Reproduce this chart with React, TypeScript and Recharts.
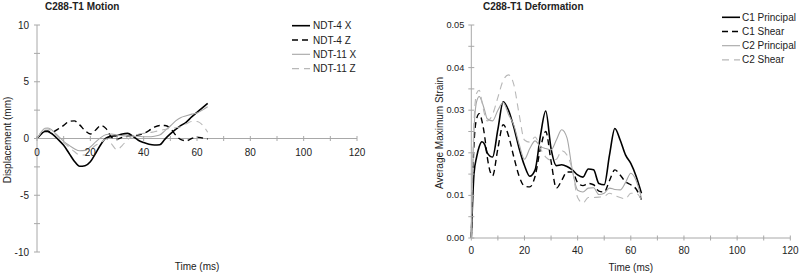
import React from 'react';
import { LineChart, Line, XAxis, YAxis, Legend, ReferenceLine, Label } from 'recharts';

const FONT = '"Liberation Sans", Arial, Helvetica, sans-serif';
const TEXT = '#222222';
const AXIS = '#a8a8a8';

// shared time samples (ms)
const timeMs = [0, 1, 2, 3, 4, 5, 6, 8, 10, 12, 14, 16, 18, 20, 22, 24, 26, 28, 30, 32, 34, 36, 38, 40, 42, 44, 46, 48, 50, 52, 54, 56, 58, 60, 62, 64];

// Motion (mm)
const ndt4X = [0, 0.25, 0.5, 0.62, 0.63, 0.5, 0.35, -0.1, -0.6, -1.3, -2.0, -2.45, -2.4, -2.05, -1.3, -0.5, 0.05, 0.2, 0.25, 0.4, 0.45, 0.2, -0.15, -0.35, -0.5, -0.57, -0.55, -0.05, 0.4, 0.8, 1.15, 1.45, 1.9, 2.3, 2.7, 3.1];
const ndt4Z = [0, 0.3, 0.55, 0.65, 0.65, 0.6, 0.6, 0.85, 1.15, 1.5, 1.55, 1.2, 0.7, 0.4, 0.75, 1.15, 0.85, 0.1, -0.05, 0.1, 0.2, 0.25, 0.3, 0.45, 0.7, 1.0, 1.15, 1.15, 0.9, 0.3, -0.1, -0.2, 0.0, 0.12, 0.05, -0.05];
const ndt11X = [0, 0.35, 0.7, 0.9, 0.93, 0.85, 0.65, 0.2, -0.25, -0.6, -0.9, -1.08, -1.05, -0.75, -0.3, 0.1, 0.35, 0.4, 0.3, 0.25, 0.2, 0.2, 0.2, 0.15, 0.15, 0.2, 0.3, 0.7, 1.1, 1.55, 1.85, 2.0, 2.15, 2.25, 2.5, 2.8];
const ndt11Z = [0, 0.35, 0.7, 0.85, 0.85, 0.75, 0.55, 0.05, -0.35, -0.75, -1.15, -1.45, -1.45, -1.0, -0.6, -0.35, -0.05, -0.5, -1.0, -0.6, -0.1, 0.25, 0.4, 0.45, 0.5, 0.6, 0.7, 0.8, 0.9, 0.95, 1.05, 1.3, 1.5, 1.5, 1.2, 0.55];

// Deformation (strain)
const c1Principal = [0, 0.015, 0.019, 0.0215, 0.0226, 0.022, 0.02, 0.019, 0.0255, 0.032, 0.03, 0.026, 0.021, 0.017, 0.0145, 0.016, 0.024, 0.0298, 0.021, 0.017, 0.0172, 0.0168, 0.016, 0.0148, 0.0143, 0.0162, 0.016, 0.0128, 0.0125, 0.0195, 0.0257, 0.023, 0.0195, 0.0175, 0.0145, 0.0105];
const c1Shear = [0, 0.022, 0.028, 0.0292, 0.0275, 0.024, 0.019, 0.0146, 0.021, 0.0266, 0.024, 0.019, 0.0145, 0.0122, 0.012, 0.0145, 0.021, 0.025, 0.018, 0.0117, 0.0135, 0.0155, 0.0155, 0.013, 0.0123, 0.0128, 0.0125, 0.011, 0.0108, 0.0135, 0.016, 0.0148, 0.0132, 0.0125, 0.0115, 0.009];
const c2Principal = [0, 0.025, 0.032, 0.0332, 0.032, 0.03, 0.028, 0.0275, 0.03, 0.0318, 0.029, 0.0265, 0.022, 0.0185, 0.021, 0.0228, 0.0215, 0.021, 0.0207, 0.023, 0.0254, 0.0235, 0.016, 0.0112, 0.0108, 0.0117, 0.0118, 0.0102, 0.0105, 0.0117, 0.0114, 0.0113, 0.013, 0.0152, 0.0135, 0.0094];
const c2Shear = [0, 0.027, 0.034, 0.0347, 0.032, 0.029, 0.0275, 0.029, 0.033, 0.037, 0.0383, 0.036, 0.029, 0.023, 0.0225, 0.0237, 0.021, 0.019, 0.0183, 0.0185, 0.0205, 0.0195, 0.016, 0.0095, 0.0082, 0.0095, 0.0095, 0.0096, 0.0098, 0.0105, 0.01, 0.0095, 0.0092, 0.0105, 0.0105, 0.009];

// ticks
const timeTicks = [0, 10, 20, 30, 40, 50, 60, 70, 80, 90, 100, 110, 120];
const motionTicks = [-10, -7.5, -5, -2.5, 0, 2.5, 5, 7.5, 10];
const strainTicks = [0, 0.005, 0.01, 0.015, 0.02, 0.025, 0.03, 0.035, 0.04, 0.045, 0.05];

const motionData = timeMs.map((t, i) => ({ t, ndt4X: ndt4X[i], ndt4Z: ndt4Z[i], ndt11X: ndt11X[i], ndt11Z: ndt11Z[i] }));
const strainData = timeMs.map((t, i) => ({ t, c1P: c1Principal[i], c1S: c1Shear[i], c2P: c2Principal[i], c2S: c2Shear[i] }));

type Series = { key: string; name: string; color: string; width: number; dash?: string };

const motionSeries: Series[] = [
  { key: 'ndt4X', name: 'NDT-4 X', color: '#000000', width: 1.6 },
  { key: 'ndt4Z', name: 'NDT-4 Z', color: '#000000', width: 1.4, dash: '6 4' },
  { key: 'ndt11X', name: 'NDT-11 X', color: '#a6a6a6', width: 1.1 },
  { key: 'ndt11Z', name: 'NDT-11 Z', color: '#b8b8b8', width: 1.1, dash: '7 5' },
];
const strainSeries: Series[] = [
  { key: 'c1P', name: 'C1 Principal', color: '#000000', width: 1.6 },
  { key: 'c1S', name: 'C1 Shear', color: '#000000', width: 1.4, dash: '6 4' },
  { key: 'c2P', name: 'C2 Principal', color: '#a6a6a6', width: 1.1 },
  { key: 'c2S', name: 'C2 Shear', color: '#b8b8b8', width: 1.1, dash: '7 5' },
];

const XTick = (props: any) => {
  const { x, y, payload, shift, labelDy } = props;
  const v = payload.value;
  const yy = y + shift;
  return (
    <g>
      <line x1={x} x2={x} y1={yy - 2.5} y2={yy + 2.5} stroke={AXIS} strokeWidth={1} />
      {v % 20 === 0 && (
        <text x={x} y={yy + labelDy} textAnchor="middle" dominantBaseline="central" fontSize={10} fill={TEXT} fontFamily={FONT}>
          {v}
        </text>
      )}
    </g>
  );
};

const YTick = (props: any) => {
  const { x, y, payload, major, fmt, fs, gap } = props;
  const v = payload.value;
  return (
    <g>
      <line x1={x - 3} x2={x + 3} y1={y} y2={y} stroke={AXIS} strokeWidth={1} />
      {major(v) && (
        <text x={x - gap} y={y} textAnchor="end" dominantBaseline="central" fontSize={fs} fill={TEXT} fontFamily={FONT}>
          {fmt(v)}
        </text>
      )}
    </g>
  );
};

const makeLegend = (series: Series[], rowH: number, firstY: number, lineLen: number, gap: number) => () => (
  <svg width={110} height={firstY + rowH * series.length} style={{ display: 'block', overflow: 'visible' }}>
    {series.map((s, i) => {
      const cy = firstY + rowH * i;
      return (
        <g key={s.key}>
          <line x1={0} x2={lineLen} y1={cy} y2={cy} stroke={s.color} strokeWidth={s.width} strokeDasharray={s.dash} />
          <text x={lineLen + gap} y={cy} dominantBaseline="central" fontSize={10} fill={TEXT} fontFamily={FONT}>
            {s.name}
          </text>
        </g>
      );
    })}
  </svg>
);

const titleStyle = (left: number): React.CSSProperties => ({
  position: 'absolute',
  left,
  top: 1,
  fontFamily: FONT,
  fontWeight: 'bold',
  fontSize: 10,
  color: TEXT,
  lineHeight: '12px',
  whiteSpace: 'nowrap',
});

export default function App() {
  return (
    <div style={{ position: 'absolute', left: 0, top: 0, width: 800, height: 275, background: '#fff', fontFamily: FONT }}>
      <div style={{ position: 'absolute', left: 0, top: 0, width: 400, height: 275 }}>
        <LineChart width={400} height={275} data={motionData} margin={{ top: 25, right: 43, bottom: 0, left: 0 }}>
          <XAxis
            dataKey="t"
            type="number"
            domain={[0, 120]}
            ticks={timeTicks}
            interval={0}
            height={23}
            axisLine={false}
            tickLine={false}
            tickSize={0}
            tickMargin={0}
            tick={<XTick shift={-113.5} labelDy={13.5} />}
          >
            <Label
              content={(p: any) => (
                <text x={p.viewBox.x + p.viewBox.width / 2} y={p.viewBox.y + 14.5} textAnchor="middle" dominantBaseline="central" fontSize={10} fill={TEXT} fontFamily={FONT}>
                  Time (ms)
                </text>
              )}
            />
          </XAxis>
          <YAxis
            type="number"
            domain={[-10, 10]}
            ticks={motionTicks}
            interval={0}
            width={37}
            axisLine={{ stroke: AXIS }}
            tickLine={false}
            tickSize={0}
            tickMargin={0}
            tick={(p: any) => <YTick {...p} fs={10} gap={8} major={(v: number) => v % 5 === 0} fmt={(v: number) => String(v)} />}
          >
            <Label
              content={(p: any) => {
                const cx = p.viewBox.x + 7;
                const cy = p.viewBox.y + p.viewBox.height / 2 + 1.5;
                return (
                  <text x={cx} y={cy} transform={`rotate(-90 ${cx} ${cy})`} textAnchor="middle" dominantBaseline="central" fontSize={10} fill={TEXT} fontFamily={FONT}>
                    Displacement (mm)
                  </text>
                );
              }}
            />
          </YAxis>
          <ReferenceLine y={0} stroke={AXIS} strokeWidth={1} />
          <Legend
            layout="vertical"
            align="center"
            verticalAlign="middle"
            wrapperStyle={{ position: 'absolute', left: 292, top: 18, width: 110 }}
            content={makeLegend(motionSeries, 14.3, 7.7, 18, 3)}
          />
          {motionSeries.map((s) => (
            <Line
              key={s.key}
              dataKey={s.key}
              name={s.name}
              type="monotone"
              stroke={s.color}
              strokeWidth={s.width}
              strokeDasharray={s.dash}
              dot={false}
              activeDot={false}
              isAnimationActive={false}
            />
          ))}
        </LineChart>
        <div style={titleStyle(45)}>C288-T1 Motion</div>
      </div>
      <div style={{ position: 'absolute', left: 400, top: 0, width: 400, height: 275 }}>
        <LineChart width={400} height={275} data={strainData} margin={{ top: 25, right: 9.7, bottom: 0, left: 0 }}>
          <XAxis
            dataKey="t"
            type="number"
            domain={[0, 120]}
            ticks={timeTicks}
            interval={0}
            height={37}
            axisLine={{ stroke: AXIS }}
            tickLine={false}
            tickSize={0}
            tickMargin={0}
            tick={<XTick shift={0} labelDy={12.7} />}
          >
            <Label
              content={(p: any) => (
                <text x={p.viewBox.x + p.viewBox.width / 2} y={p.viewBox.y + 29} textAnchor="middle" dominantBaseline="central" fontSize={10} fill={TEXT} fontFamily={FONT}>
                  Time (ms)
                </text>
              )}
            />
          </XAxis>
          <YAxis
            type="number"
            domain={[0, 0.05]}
            ticks={strainTicks}
            interval={0}
            width={71.3}
            axisLine={{ stroke: AXIS }}
            tickLine={false}
            tickSize={0}
            tickMargin={0}
            tick={(p: any) => (
              <YTick {...p} fs={9.2} gap={7} major={(v: number) => Math.round(v * 1000) % 10 === 0} fmt={(v: number) => v.toFixed(2)} />
            )}
          >
            <Label
              content={(p: any) => {
                const cx = p.viewBox.x + 39.5;
                const cy = p.viewBox.y + p.viewBox.height / 2 + 1.5;
                return (
                  <text x={cx} y={cy} transform={`rotate(-90 ${cx} ${cy})`} textAnchor="middle" dominantBaseline="central" fontSize={10} fill={TEXT} fontFamily={FONT}>
                    Average Maximum Strain
                  </text>
                );
              }}
            />
          </YAxis>
          <Legend
            layout="vertical"
            align="center"
            verticalAlign="middle"
            wrapperStyle={{ position: 'absolute', left: 321.7, top: 10, width: 110 }}
            content={makeLegend(strainSeries, 14.2, 7.3, 18, 2)}
          />
          {strainSeries.map((s) => (
            <Line
              key={s.key}
              dataKey={s.key}
              name={s.name}
              type="monotone"
              stroke={s.color}
              strokeWidth={s.width}
              strokeDasharray={s.dash}
              dot={false}
              activeDot={false}
              isAnimationActive={false}
            />
          ))}
        </LineChart>
        <div style={titleStyle(83)}>C288-T1 Deformation</div>
      </div>
    </div>
  );
}
